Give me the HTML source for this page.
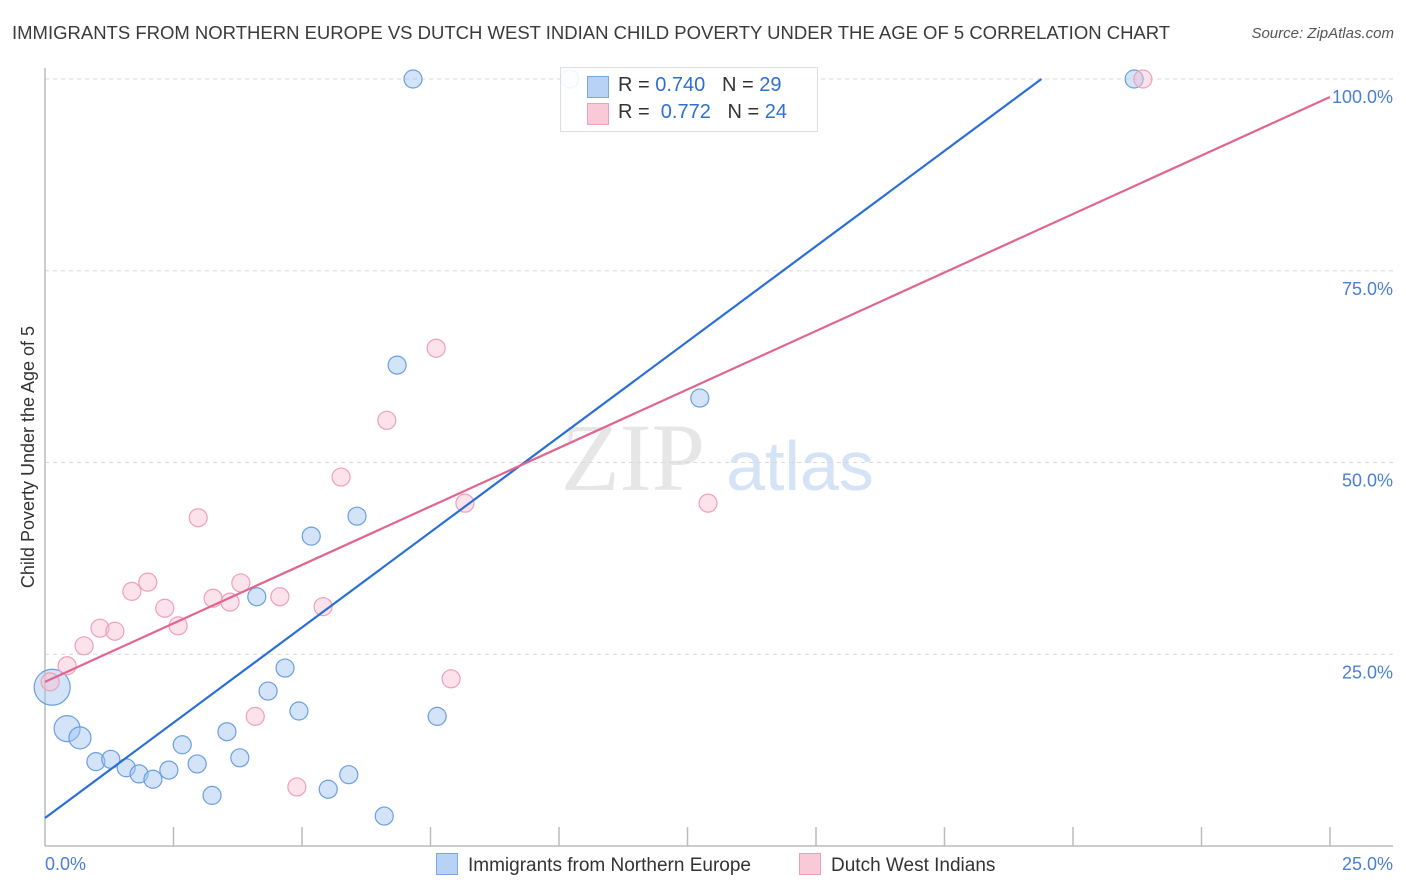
<!DOCTYPE html>
<html><head><meta charset="utf-8"><style>
body{margin:0;background:#fff;font-family:"Liberation Sans",sans-serif;}
#wrap{position:relative;width:1406px;height:892px;overflow:hidden;}
.t{position:absolute;white-space:nowrap;}
</style></head><body>
<div id="wrap">
<div class="t" style="left:12px;top:22px;font-size:18.5px;color:#3a3a3a;">IMMIGRANTS FROM NORTHERN EUROPE VS DUTCH WEST INDIAN CHILD POVERTY UNDER THE AGE OF 5 CORRELATION CHART</div>
<div class="t" style="right:12px;top:25px;font-size:15px;color:#555;font-style:italic;">Source: ZipAtlas.com</div>
<svg id="plot" width="1406" height="892" style="position:absolute;left:0;top:0"></svg>
</div>
<script>
const xTicks=[0,2.5,5,7.5,10,12.5,15,17.5,20,22.5,25];
const yTicks=[25,50,75,100];
const yTickLabels=["25.0%","50.0%","75.0%","100.0%"];
const blueX=[0.14,0.43,0.68,0.99,1.28,1.58,1.83,2.10,2.41,2.67,2.96,3.25,3.54,3.79,4.12,4.34,4.67,4.94,5.18,5.51,5.91,6.07,6.60,6.85,7.16,7.63,10.21,12.74,21.19];
const blueY=[20.7,15.3,14.1,11.0,11.3,10.2,9.4,8.7,9.9,13.2,10.7,6.6,14.9,11.5,32.5,20.2,23.2,17.6,40.4,7.4,9.3,43.0,3.9,62.7,100,16.9,100,58.4,100];
const blueSize=[18,13,11,9,9,9,9,9,9,9,9,9,9,9,9,9,9,9,9,9,9,9,9,9,9,9,9,9,9];
const pinkX=[0.10,0.43,0.76,1.07,1.36,1.69,2.00,2.33,2.59,2.98,3.27,3.60,3.81,4.09,4.57,4.90,5.41,5.76,6.65,7.61,7.90,8.17,12.90,21.36];
const pinkY=[21.4,23.5,26.1,28.4,28.0,33.2,34.4,31.0,28.7,42.8,32.3,31.8,34.3,16.9,32.5,7.7,31.2,48.1,55.5,64.9,21.8,44.7,44.7,100];
const blueLine=[3.65,4.97];
const pinkLine=[21.4,3.05];

const X0=45,X1=1330,Y0=846,Y100=79;
const sx=v=>X0+(X1-X0)*v/25;
const sy=v=>Y0-(Y0-Y100)*v/100;
const NS="http://www.w3.org/2000/svg";
const svg=document.getElementById('plot');
function mk(tag,attrs,name){const e=document.createElementNS(NS,tag);for(const k in attrs)e.setAttribute(k,attrs[k]);


svg.appendChild(e);return e;}
// watermark
let w=mk('text',{x:633,y:490,'font-size':96,'font-family':'Liberation Serif, serif',fill:'#e6e6e6','text-anchor':'middle'},'watermark-zip');w.textContent='ZIP';
w=mk('text',{x:800,y:490,'font-size':70,'font-family':'Liberation Sans, sans-serif',fill:'#d4e3f5','text-anchor':'middle'},'watermark-atlas');w.textContent='atlas';
// gridlines
yTicks.forEach((v,i)=>{
mk('line',{x1:X0,x2:1393,y1:sy(v),y2:sy(v),stroke:'#d8d8d8','stroke-dasharray':'4,4'},'gridline');
const t=mk('text',{x:1393,y:sy(v)+24,'font-size':18,fill:'#4a7fd4','text-anchor':'end','font-family':'Liberation Sans, sans-serif'},'y-tick-label');t.textContent=yTickLabels[i];
});
// axes
mk('line',{x1:X0,x2:X0,y1:68,y2:Y0,stroke:'#bbb','stroke-width':1.5},'y-axis');
mk('line',{x1:X0,x2:1393,y1:Y0,y2:Y0,stroke:'#bbb','stroke-width':1.5},'x-axis');
xTicks.forEach((v,i)=>{if(i>0)mk('line',{x1:sx(v),x2:sx(v),y1:Y0-19,y2:Y0,stroke:'#bbb','stroke-width':1.5},'x-tick');});
let t=mk('text',{x:45,y:870,'font-size':18,fill:'#4a7fd4','font-family':'Liberation Sans, sans-serif'},'x-tick-label-min');t.textContent='0.0%';
t=mk('text',{x:1393,y:870,'font-size':18,fill:'#4a7fd4','text-anchor':'end','font-family':'Liberation Sans, sans-serif'},'x-tick-label-max');t.textContent='25.0%';
t=mk('text',{x:34,y:457,'font-size':18,fill:'#333','text-anchor':'middle',transform:'rotate(-90 34 457)','font-family':'Liberation Sans, sans-serif'},'y-axis-title');t.textContent='Child Poverty Under the Age of 5';
// points
blueX.forEach((x,i)=>mk('circle',{cx:sx(x),cy:sy(blueY[i]),r:blueSize[i],fill:'rgba(160,196,240,0.45)',stroke:'#6a9ee0','stroke-width':1.2},'point-northern-europe'));
pinkX.forEach((x,i)=>mk('circle',{cx:sx(x),cy:sy(pinkY[i]),r:9,fill:'rgba(248,190,208,0.45)',stroke:'#eea0b8','stroke-width':1.2},'point-dutch-west-indian'));
// trend lines
const bxEnd=(100-blueLine[0])/blueLine[1];
mk('line',{x1:sx(0),y1:sy(blueLine[0]),x2:sx(bxEnd),y2:sy(100),stroke:'#2a6fd6','stroke-width':2.2},'trend-line-northern-europe');
mk('line',{x1:sx(0),y1:sy(pinkLine[0]),x2:sx(25),y2:sy(pinkLine[0]+pinkLine[1]*25),stroke:'#e0658f','stroke-width':2.2},'trend-line-dutch-west-indian');
</script>
<div style="position:absolute;left:560px;top:67px;width:256px;height:63px;border:1px solid #ddd;background:rgba(255,255,255,0.9);font-size:20px;color:#333;">
 <div style="position:absolute;left:26px;top:8px;width:20px;height:20px;background:#b7d2f5;border:1px solid #7aa6e3;"></div>
 <div class="t" style="left:57px;top:6px;">R = <span style="color:#2f6fd0">0.740</span>&nbsp;&nbsp;&nbsp;N = <span style="color:#2f6fd0">29</span></div>
 <div style="position:absolute;left:26px;top:35px;width:20px;height:20px;background:#f9c9d7;border:1px solid #eea0b8;"></div>
 <div class="t" style="left:57px;top:33px;">R = &nbsp;<span style="color:#2f6fd0">0.772</span>&nbsp;&nbsp;&nbsp;N = <span style="color:#2f6fd0">24</span></div>
</div>
<div style="position:absolute;left:436px;top:853px;font-size:19px;color:#333;">
 <span style="display:inline-block;width:20px;height:20px;background:#b7d2f5;border:1px solid #7aa6e3;vertical-align:-4px;margin-right:10px;"></span>Immigrants from Northern Europe</div>
<div style="position:absolute;left:799px;top:853px;font-size:19px;color:#333;">
 <span style="display:inline-block;width:20px;height:20px;background:#f9c9d7;border:1px solid #eea0b8;vertical-align:-4px;margin-right:10px;"></span>Dutch West Indians</div>
</body></html>
